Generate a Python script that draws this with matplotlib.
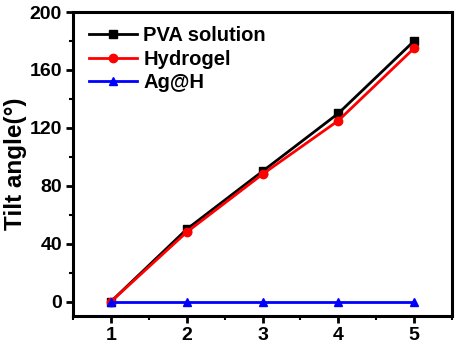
import matplotlib.pyplot as plt
from matplotlib.ticker import MultipleLocator

plt.rcParams['font.family'] = ['Liberation Sans', 'DejaVu Sans']
plt.rcParams['font.weight'] = 'bold'

x = [1, 2, 3, 4, 5]
pva = [0, 50, 90, 130, 180]
hydrogel = [0, 48, 88, 125, 175]
ag_h = [0, 0, 0, 0, 0]

fig = plt.figure(figsize=(4.57, 3.45), dpi=100)
ax = fig.add_axes([0.16, 0.084, 0.829, 0.881])

ax.plot(x, pva, color='black', marker='s', markersize=6, linewidth=2, label='PVA solution')
ax.plot(x, hydrogel, color='red', marker='o', markersize=6, linewidth=2, label='Hydrogel')
ax.plot(x, ag_h, color='blue', marker='^', markersize=6, linewidth=2, label='Ag@H')

ax.set_xlim(0.5, 5.5)
ax.set_ylim(-10, 200)
ax.set_xticks(x)
ax.set_yticks([0, 40, 80, 120, 160, 200])
ax.xaxis.set_minor_locator(MultipleLocator(0.5))
ax.yaxis.set_minor_locator(MultipleLocator(20))
ax.tick_params(which='major', direction='out', length=5, width=2, labelsize=14, pad=3)
ax.tick_params(which='minor', direction='out', length=3, width=1.5)
for s in ax.spines.values():
    s.set_linewidth(2.2)

ax.set_ylabel('Tilt angle(°)', fontsize=17.5, fontweight='bold', labelpad=2)

ax.legend(loc='upper left', frameon=False, fontsize=14.5, handlelength=2.4,
          handletextpad=0.3, labelspacing=0.22, borderaxespad=0.3,
          bbox_to_anchor=(0.005, 1.0))

fig.savefig('out.png', dpi=100)
